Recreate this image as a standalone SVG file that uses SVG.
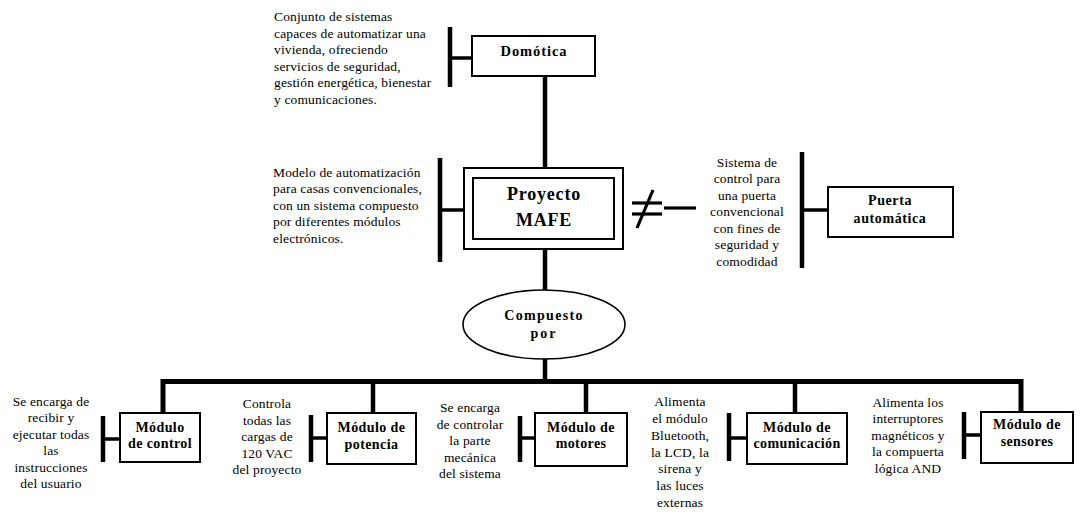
<svg xmlns="http://www.w3.org/2000/svg" width="1086" height="522" viewBox="0 0 1086 522">
<style>
  .bg{fill:#fff}
  .box{fill:#fff;stroke:#000;stroke-width:2}
  .ell{fill:#fff;stroke:#000;stroke-width:1.6}
  .t{font-family:"Liberation Serif","Times New Roman",serif;font-size:13.5px;letter-spacing:0.15px;fill:#000}
  .c{text-anchor:middle}
  .b{font-family:"Liberation Serif","Times New Roman",serif;font-size:14px;font-weight:bold;letter-spacing:0.4px;fill:#000;text-anchor:middle}
  .big{font-size:18px;letter-spacing:0.8px}
  .v{stroke:#000;stroke-width:4.5;fill:none}
  .h{stroke:#000;stroke-width:3.5;fill:none}
  .bus{stroke:#000;stroke-width:5;fill:none;stroke-linejoin:miter}
  .ne{stroke:#000;stroke-width:3.2;fill:none}
</style>
<rect class="bg" x="0" y="0" width="1086" height="522"/>

<g id="connectors">
  <!-- Domotica to MAFE -->
  <line class="v" x1="545" y1="76" x2="545" y2="168"/>
  <!-- Domotica bracket -->
  <line class="v" x1="450" y1="27" x2="450" y2="87"/>
  <line class="h" x1="450" y1="58" x2="472" y2="58"/>
  <!-- MAFE bracket -->
  <line class="v" x1="440" y1="158" x2="440" y2="262"/>
  <line class="h" x1="440" y1="210" x2="464" y2="210"/>
  <!-- not equal symbol and dash -->
  <line class="ne" x1="632" y1="203" x2="662" y2="203"/>
  <line class="ne" x1="632" y1="214" x2="662" y2="214"/>
  <line class="ne" x1="653" y1="190" x2="637" y2="228"/>
  <line class="ne" x1="664" y1="208" x2="696" y2="208"/>
  <!-- Puerta bracket -->
  <line class="v" x1="802" y1="152" x2="802" y2="268"/>
  <line class="h" x1="802" y1="210" x2="828" y2="210"/>
  <!-- MAFE to ellipse, ellipse to bus -->
  <line class="v" x1="545" y1="249" x2="545" y2="290"/>
  <line class="v" x1="545" y1="359" x2="545" y2="381"/>
  <!-- bus -->
  <path class="bus" d="M163,413 V381.5 H1021 V412"/>
  <line class="v" x1="373" y1="381" x2="373" y2="413"/>
  <line class="v" x1="586" y1="381" x2="586" y2="413"/>
  <line class="v" x1="795" y1="381" x2="795" y2="413"/>
  <!-- module brackets -->
  <line class="v" x1="103" y1="416" x2="103" y2="462"/>
  <line class="h" x1="103" y1="439" x2="120" y2="439"/>
  <line class="v" x1="311" y1="415" x2="311" y2="462"/>
  <line class="h" x1="311" y1="438" x2="327" y2="438"/>
  <line class="v" x1="520" y1="416" x2="520" y2="462"/>
  <line class="h" x1="520" y1="438" x2="535" y2="438"/>
  <line class="v" x1="729" y1="413" x2="729" y2="461"/>
  <line class="h" x1="729" y1="438" x2="747" y2="438"/>
  <line class="v" x1="964" y1="412" x2="964" y2="459"/>
  <line class="h" x1="964" y1="435" x2="981" y2="435"/>
</g>

<g id="domotica-desc">
  <text class="t" x="274" y="21">Conjunto de sistemas</text>
  <text class="t" x="274" y="37.5">capaces de automatizar una</text>
  <text class="t" x="274" y="54">vivienda, ofreciendo</text>
  <text class="t" x="274" y="70.5">servicios de seguridad,</text>
  <text class="t" x="274" y="87">gestión energética, bienestar</text>
  <text class="t" x="274" y="103.5">y comunicaciones.</text>
</g>

<g id="domotica">
  <rect class="box" x="472" y="36" width="123" height="40"/>
  <text class="b" x="534" y="56" style="font-size:14.5px;letter-spacing:0.9px">Domótica</text>
</g>

<g id="mafe-desc">
  <text class="t" x="273" y="176.5">Modelo de automatización</text>
  <text class="t" x="273" y="193">para casas convencionales,</text>
  <text class="t" x="273" y="209.5">con un sistema compuesto</text>
  <text class="t" x="273" y="226">por diferentes módulos</text>
  <text class="t" x="273" y="242.5">electrónicos.</text>
</g>

<g id="mafe">
  <rect class="box" x="464" y="168" width="159" height="81"/>
  <rect class="box" x="473" y="178" width="141" height="61"/>
  <text class="b big" x="544" y="200">Proyecto</text>
  <text class="b big" x="544" y="226">MAFE</text>
</g>

<g id="puerta-desc">
  <text class="t c" x="747" y="166.5">Sistema de</text>
  <text class="t c" x="747" y="183">control para</text>
  <text class="t c" x="747" y="199.5">una puerta</text>
  <text class="t c" x="747" y="216">convencional</text>
  <text class="t c" x="747" y="232.5">con fines de</text>
  <text class="t c" x="747" y="249">seguridad y</text>
  <text class="t c" x="747" y="265.5">comodidad</text>
</g>

<g id="puerta">
  <rect class="box" x="828" y="187" width="125" height="50"/>
  <text class="b" x="890" y="205" style="letter-spacing:0.6px">Puerta</text>
  <text class="b" x="890" y="223" style="letter-spacing:0.6px">automática</text>
</g>

<g id="compuesto">
  <ellipse class="ell" cx="544" cy="324.5" rx="81" ry="34.5"/>
  <text class="b" x="544" y="320" style="letter-spacing:1.3px">Compuesto</text>
  <text class="b" x="544" y="338" style="letter-spacing:2px">por</text>
</g>

<g id="control-desc">
  <text class="t c" x="51" y="405.5">Se encarga de</text>
  <text class="t c" x="51" y="422">recibir y</text>
  <text class="t c" x="51" y="438.5">ejecutar todas</text>
  <text class="t c" x="51" y="455">las</text>
  <text class="t c" x="51" y="471.5">instrucciones</text>
  <text class="t c" x="51" y="488">del usuario</text>
</g>
<g id="modulo-control">
  <rect class="box" x="120" y="413" width="80" height="49"/>
  <text class="b" x="160" y="432">Módulo</text>
  <text class="b" x="160" y="448">de control</text>
</g>

<g id="potencia-desc">
  <text class="t c" x="267" y="408">Controla</text>
  <text class="t c" x="267" y="424.5">todas las</text>
  <text class="t c" x="267" y="441">cargas de</text>
  <text class="t c" x="267" y="457.5">120 VAC</text>
  <text class="t c" x="267" y="474">del proyecto</text>
</g>
<g id="modulo-potencia">
  <rect class="box" x="327" y="413" width="89" height="51"/>
  <text class="b" x="371.5" y="432">Módulo de</text>
  <text class="b" x="371.5" y="448.5">potencia</text>
</g>

<g id="motores-desc">
  <text class="t c" x="470" y="412">Se encarga</text>
  <text class="t c" x="470" y="428.5">de controlar</text>
  <text class="t c" x="470" y="445">la parte</text>
  <text class="t c" x="470" y="461.5">mecánica</text>
  <text class="t c" x="470" y="478">del sistema</text>
</g>
<g id="modulo-motores">
  <rect class="box" x="535" y="413" width="92" height="53"/>
  <text class="b" x="581" y="432">Módulo de</text>
  <text class="b" x="581" y="448">motores</text>
</g>

<g id="comunicacion-desc">
  <text class="t c" x="680" y="406">Alimenta</text>
  <text class="t c" x="680" y="423">el módulo</text>
  <text class="t c" x="680" y="439.5">Bluetooth,</text>
  <text class="t c" x="680" y="456.5">la LCD, la</text>
  <text class="t c" x="680" y="473">sirena y</text>
  <text class="t c" x="680" y="490">las luces</text>
  <text class="t c" x="680" y="506.5">externas</text>
</g>
<g id="modulo-comunicacion">
  <rect class="box" x="747" y="413" width="100" height="51"/>
  <text class="b" x="797" y="432">Módulo de</text>
  <text class="b" x="797" y="447.5">comunicación</text>
</g>

<g id="sensores-desc">
  <text class="t c" x="908" y="406.5">Alimenta los</text>
  <text class="t c" x="908" y="423">interruptores</text>
  <text class="t c" x="908" y="439.5">magnéticos y</text>
  <text class="t c" x="908" y="456">la compuerta</text>
  <text class="t c" x="908" y="472.5">lógica AND</text>
</g>
<g id="modulo-sensores">
  <rect class="box" x="981" y="412" width="92" height="51"/>
  <text class="b" x="1027" y="429">Módulo de</text>
  <text class="b" x="1027" y="446">sensores</text>
</g>
</svg>
